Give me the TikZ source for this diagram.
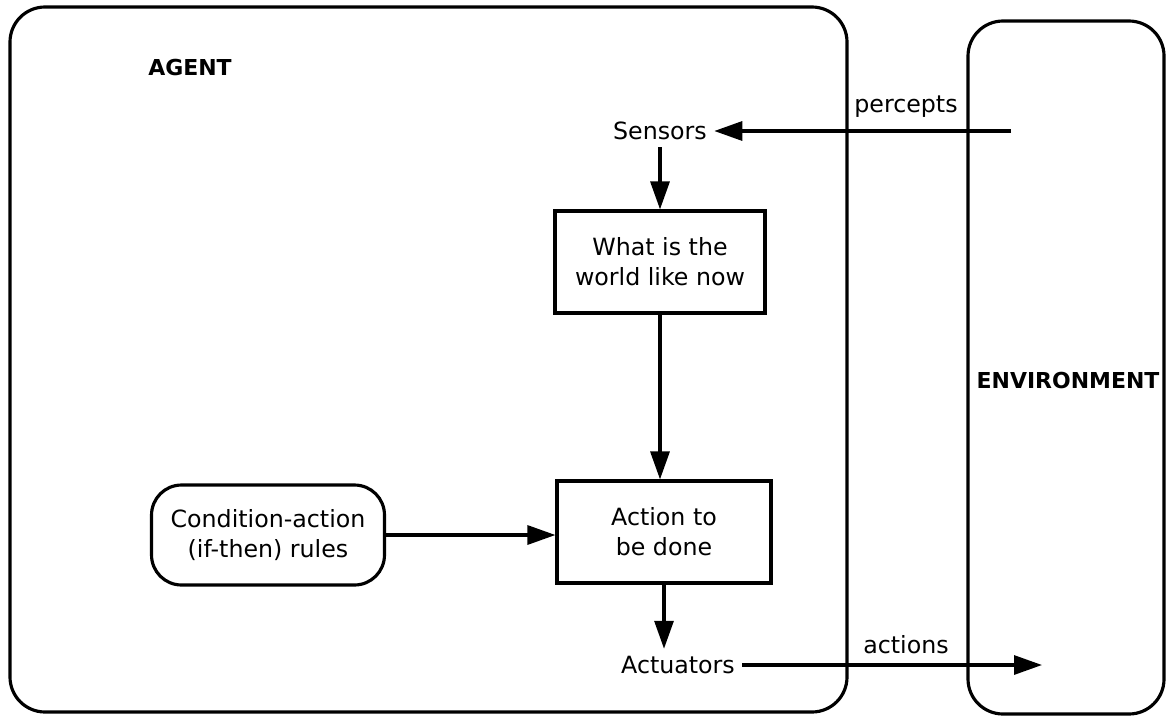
\documentclass[tikz,border=0pt]{standalone}
\usepackage{fontspec}
\setmainfont{DejaVu Sans}
\usetikzlibrary{arrows.meta}
\begin{document}
\begin{tikzpicture}[x = .02cm, y = -.02cm, line width = 1.8pt,
		font = \fontsize{13.5pt}{17pt}\selectfont,
		arr/.style = {-{Triangle[length = .56cm, width = .38cm]}},
		heading/.style = {font = \fontsize{12.5pt}{15pt}\selectfont\bfseries},
		box/.style = {draw, align = center, minimum width = 4.2cm, minimum height = 2.04cm}]
	\useasboundingbox (0,0) rectangle (1172,717);
	\draw[rounded corners = .7cm] (10,7) rectangle (847,712);
	\draw[rounded corners = .7cm] (968,21) rectangle (1164,714);
	\node[heading] (agent) at (190,68) {AGENT};
	\node[heading] (env) at (1068,380) {ENVIRONMENT};
	\node (sensors) at (660,131) {Sensors};
	\node[box] (world) at (660,262) {What is the\\world like now};
	\node[box, minimum width = 4.28cm] (action) at (664,532) {Action to\\be done};
	\node[box, rounded corners = .6cm, minimum width = 4.66cm, minimum height = 2cm] (rules) at (268,535) {Condition-action\\(if-then) rules};
	\node (actuators) at (678,665) {Actuators};
	\node[anchor = base] (percepts) at (906,112) {percepts};
	\node[anchor = base] (actions) at (906,653) {actions};
	\coordinate (pin) at (1011,131);
	\coordinate (pout) at (1042,665);
	\draw[arr] (pin) -- (sensors.east);
	\draw[arr] (sensors.south) -- (world.north);
	\draw[arr] (world.south) -- (world.south |- action.north);
	\draw[arr] (rules.east) -- (action.west |- rules.east);
	\draw[arr] (action.south) -- (action.south |- actuators.north);
	\draw[arr] (actuators.east) -- (pout);
\end{tikzpicture}
\end{document}
